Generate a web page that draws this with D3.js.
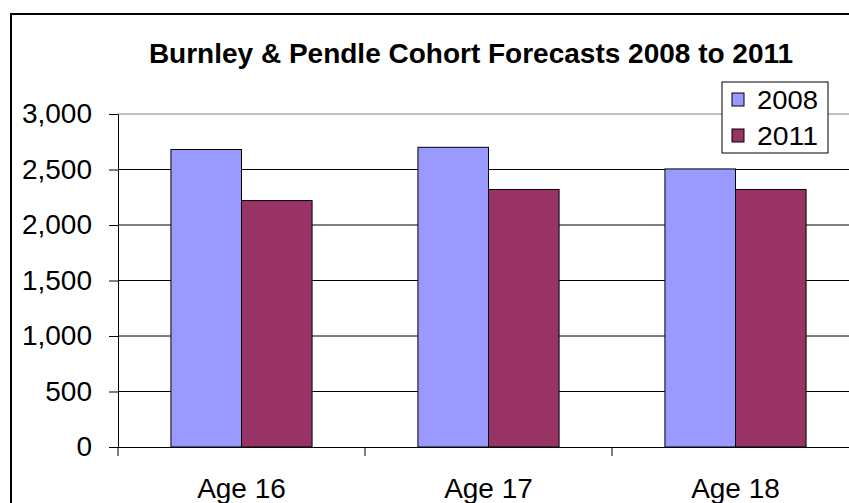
<!DOCTYPE html>
<html>
<head>
<meta charset="utf-8">
<script src="https://cdn.jsdelivr.net/npm/d3@7"></script>
<style>
body { margin: 0; background: #fff; }
text { font-family: "Liberation Sans", Arial, sans-serif; fill: #000; }
</style>
</head>
<body>
<div id="chart"></div>
<script>
var categories = ["Age 16", "Age 17", "Age 18"];
var seriesNames = ["2008", "2011"];
var values2008 = [2680, 2700, 2505];
var values2011 = [2220, 2320, 2320];
var yTicks = [0, 500, 1000, 1500, 2000, 2500, 3000];
var colors = ["#9999FF", "#993366"];
var title = "Burnley & Pendle Cohort Forecasts 2008 to 2011";

var w = 849;
var h = 503;

var svg = d3.select("#chart")
	.append("svg")
	.attr("width", w)
	.attr("height", h);

// chart area border (runs off the right and bottom)
svg.append("rect")
	.attr("x", 11)
	.attr("y", 14)
	.attr("width", 900)
	.attr("height", 600)
	.attr("fill", "#fff")
	.attr("stroke", "#000")
	.attr("stroke-width", 2);

svg.append("text")
	.attr("x", 471)
	.attr("y", 63)
	.attr("text-anchor", "middle")
	.style("font-size", "28px")
	.style("font-weight", "bold")
	.text(title);

var x0 = d3.scaleBand().domain(categories).range([118, 118 + 3 * 247]).padding(0);
var x1 = d3.scaleBand().domain(seriesNames).range([0, x0.bandwidth()])
	.paddingInner(0).paddingOuter(0.75);
var y = d3.scaleLinear().domain([0, 3000]).range([447, 114]);

// gridlines
svg.append("g")
	.selectAll("line")
	.data(yTicks.filter(function(d) { return d > 0; }))
	.enter().append("line")
	.attr("x1", 118)
	.attr("x2", x0.range()[1])
	.attr("y1", function(d) { return y(d); })
	.attr("y2", function(d) { return y(d); })
	.attr("stroke", function(d) { return d === 3000 ? "#808080" : "#000"; })
	.attr("stroke-width", 1);

// bars
var rows = categories.map(function(c, i) {
	return { cat: c, vals: [values2008[i], values2011[i]] };
});

var groups = svg.append("g")
	.selectAll("g")
	.data(rows)
	.enter().append("g")
	.attr("transform", function(d) { return "translate(" + x0(d.cat) + ",0)"; });

groups.selectAll("rect")
	.data(function(d) { return d.vals.map(function(v, j) { return { s: seriesNames[j], v: v, j: j }; }); })
	.enter().append("rect")
	.attr("x", function(d) { return x1(d.s); })
	.attr("y", function(d) { return y(d.v); })
	.attr("width", x1.bandwidth())
	.attr("height", function(d) { return y(0) - y(d.v); })
	.attr("fill", function(d) { return colors[d.j]; })
	.attr("stroke", "#000")
	.attr("stroke-width", 1);

// y axis
var yAxis = d3.axisLeft(y)
	.tickValues(yTicks)
	.tickFormat(d3.format(","))
	.tickSize(9)
	.tickSizeOuter(0)
	.tickPadding(17);

var gy = svg.append("g")
	.attr("transform", "translate(118,0)")
	.call(yAxis);
gy.select(".domain").attr("stroke", "#000");
gy.selectAll("line").attr("stroke", "#000");
gy.selectAll("text")
	.style("font-size", "28px")
	.attr("font-family", null);

// x axis
var xAxis = d3.axisBottom(x0).tickSize(0).tickSizeOuter(0).tickPadding(31);
var gx = svg.append("g")
	.attr("transform", "translate(0,447)")
	.call(xAxis);
gx.select(".domain").attr("stroke", "#000");
gx.selectAll("text")
	.style("font-size", "28px")
	.attr("font-family", null);

gx.selectAll(".boundary")
	.data(categories)
	.enter().append("line")
	.attr("class", "boundary")
	.attr("x1", function(d) { return x0(d); })
	.attr("x2", function(d) { return x0(d); })
	.attr("y1", 0)
	.attr("y2", 9)
	.attr("stroke", "#000");

// legend
var legend = svg.append("g").attr("transform", "translate(722,82)");
legend.append("rect")
	.attr("width", 106)
	.attr("height", 71)
	.attr("fill", "#fff")
	.attr("stroke", "#000");

var items = legend.selectAll(".item")
	.data(seriesNames)
	.enter().append("g")
	.attr("class", "item")
	.attr("transform", function(d, i) { return "translate(0," + (i * 36) + ")"; });

items.append("rect")
	.attr("x", 10)
	.attr("y", 11)
	.attr("width", 12)
	.attr("height", 13)
	.attr("fill", function(d, i) { return colors[i]; })
	.attr("stroke", "#000");

items.append("text")
	.attr("x", 35)
	.attr("y", 27)
	.style("font-size", "26px")
	.attr("textLength", 61)
	.attr("lengthAdjust", "spacingAndGlyphs")
	.text(function(d) { return d; });
</script>
</body>
</html>
